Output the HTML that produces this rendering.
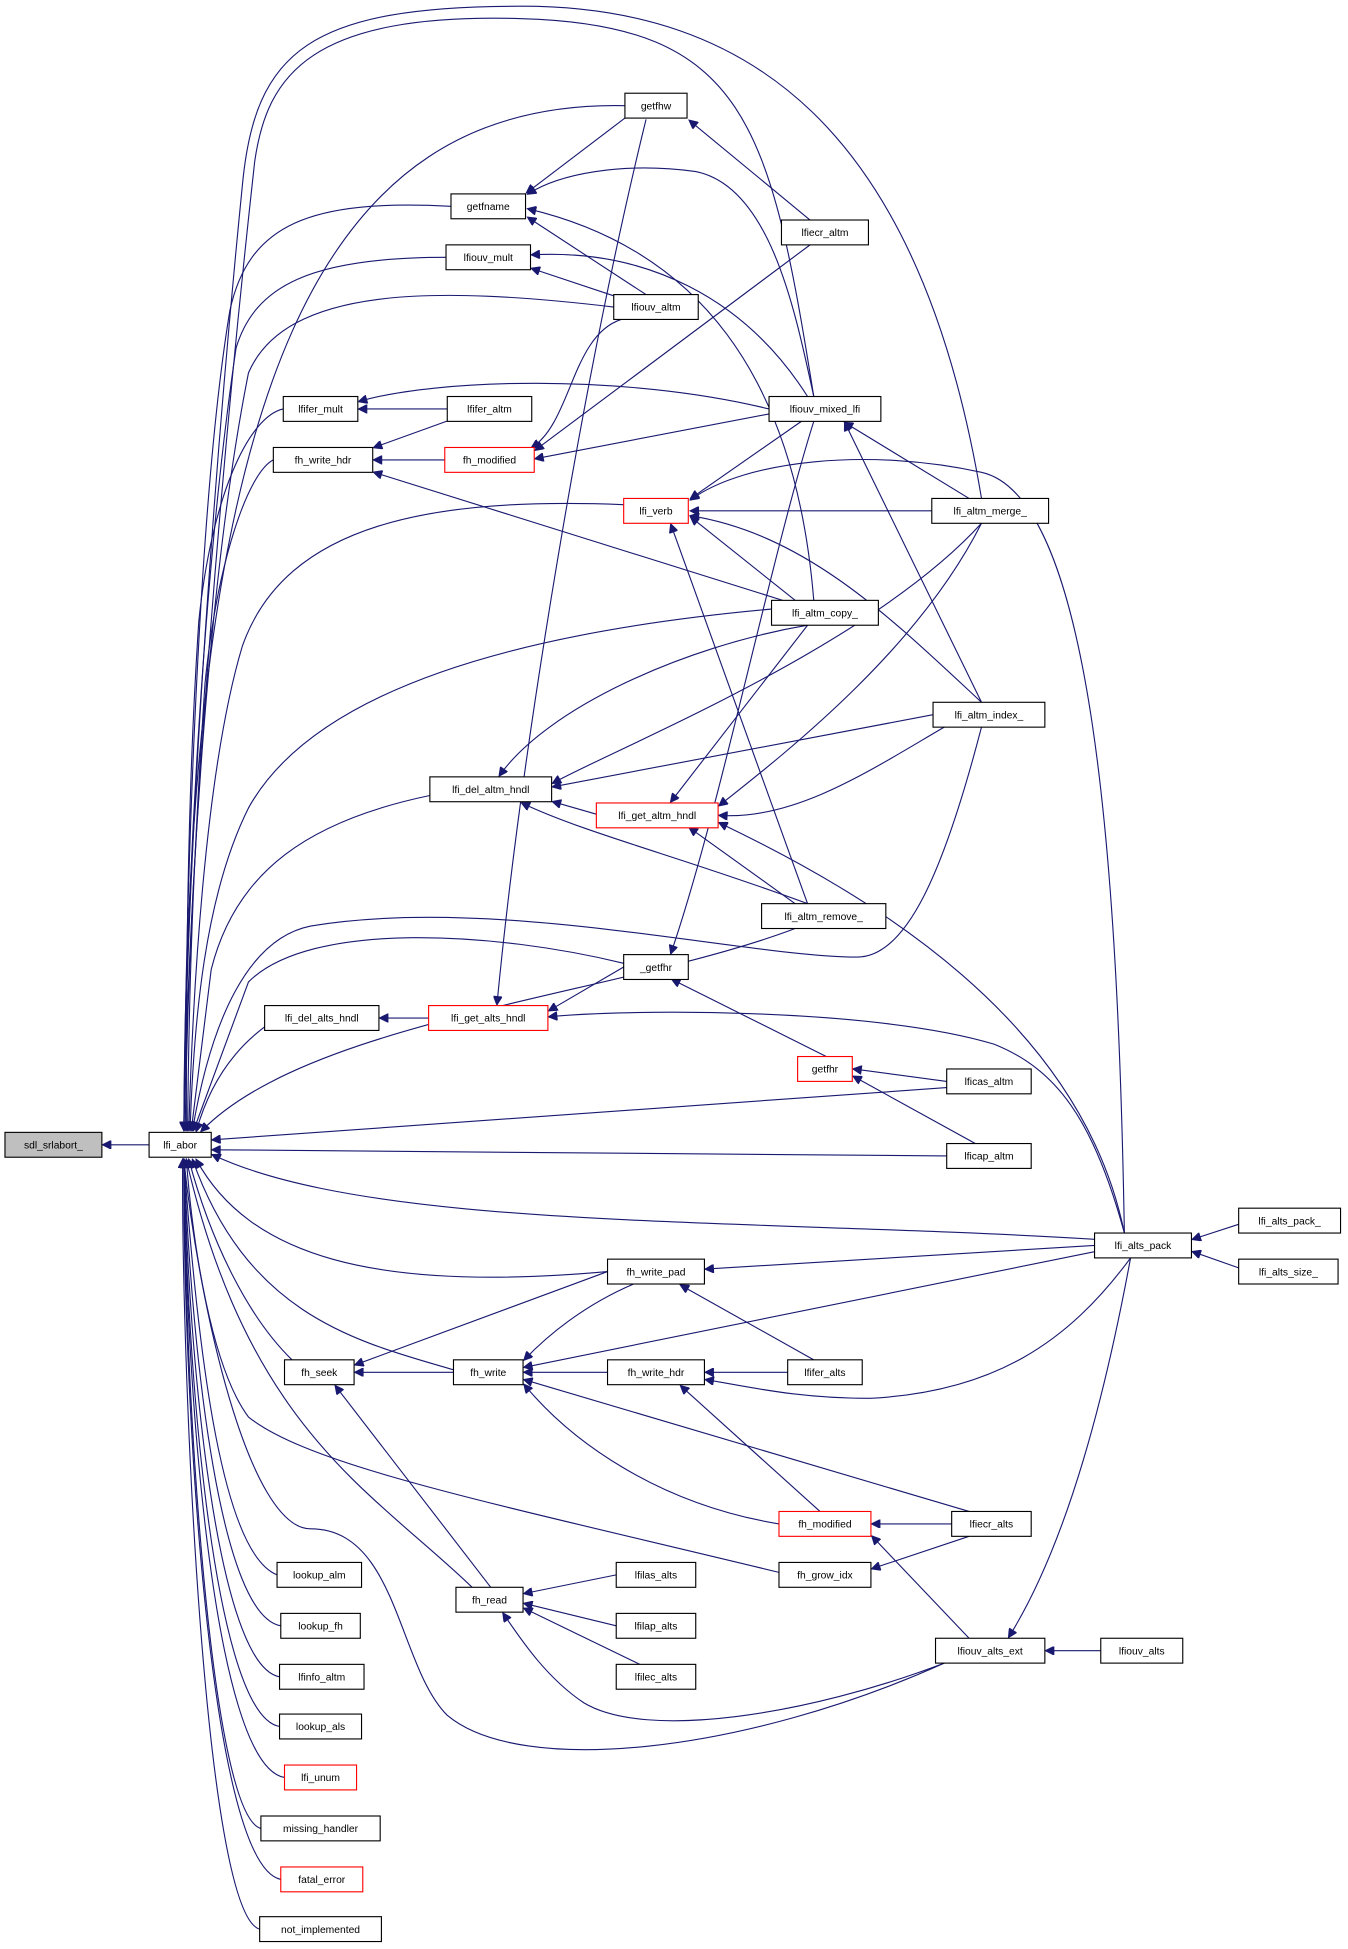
<!DOCTYPE html>
<html><head><meta charset="utf-8"><style>
html,body{margin:0;padding:0;background:#fff;}
svg{display:block;}
text{font-family:"Liberation Sans",Arial,sans-serif;font-size:8.3px;text-anchor:middle;fill:#000;}
.e{fill:none;stroke:#191970;stroke-width:0.9;}
.n{fill:#fff;stroke:#000;stroke-width:0.9;}
.r{fill:#fff;stroke:#ff0000;stroke-width:0.9;}
</style></head><body>
<svg width="1348" height="1949" viewBox="0 0 1085 1568" preserveAspectRatio="none" xmlns="http://www.w3.org/2000/svg">
<defs><marker id="a" viewBox="0 0 10 10" refX="9" refY="5" markerWidth="9" markerHeight="7" markerUnits="userSpaceOnUse" orient="auto"><path d="M0,0 L10,5 L0,10 z" fill="#191970" stroke="#191970"/></marker></defs>
<g class="e" marker-end="url(#a)">
<path d="M120,921 L83,921"/>
<path d="M503,85 C260,80 150,300 148,909"/>
<path d="M655,319 C620,100 600,20 420,15 C250,10 215,60 205,130 C175,400 152,700 148,909"/>
<path d="M790,401 C740,100 600,5 420,5 C250,5 205,40 195,150 C170,400 150,700 148,909"/>
<path d="M363,166 C250,160 200,180 185,250 C160,400 150,700 148,909"/>
<path d="M359,207 C250,207 205,230 190,280 C165,450 150,700 148,909"/>
<path d="M494,247 C350,230 230,230 200,300 C170,450 152,700 149,909"/>
<path d="M228,329 C200,335 170,400 160,500 C150,650 150,800 150,909"/>
<path d="M220,370 C200,380 175,450 165,550 C155,700 152,800 151,909"/>
<path d="M502,406 C350,400 230,420 195,520 C165,620 155,800 152,909"/>
<path d="M621,490 C400,510 250,560 200,650 C165,720 156,820 153,909"/>
<path d="M346,640 C250,660 190,700 170,780 L154,909"/>
<path d="M790,585 C760,700 730,770 690,770 C600,770 400,720 250,745 C200,755 170,820 155,909"/>
<path d="M502,775 C400,750 250,740 200,790 L156,909"/>
<path d="M240,809 C200,830 172,860 158,910"/>
<path d="M640,747 C500,800 250,820 162,910"/>
<path d="M762,875 L171,917"/>
<path d="M762,930 L171,925"/>
<path d="M881,997 C600,980 300,990 171,929"/>
<path d="M489,1023 C300,1040 200,1010 158,933"/>
<path d="M365,1102 C290,1080 200,1060 155,933"/>
<path d="M235,1094 C200,1060 170,1000 152,933"/>
<path d="M627,1265 C400,1210 250,1180 200,1140 C170,1100 155,1000 150,933"/>
<path d="M380,1277 C300,1200 200,1150 150,933"/>
<path d="M760,1338 C600,1410 420,1430 360,1380 C320,1340 320,1230 250,1230 C200,1230 160,1050 148,933"/>
<path d="M223,1267 C180,1250 160,1100 148,933"/>
<path d="M226,1308 C178,1300 155,1100 148,933"/>
<path d="M225,1349 C175,1340 152,1100 148,933"/>
<path d="M225,1389 C172,1380 150,1100 148,933"/>
<path d="M229,1430 C170,1420 149,1100 148,933"/>
<path d="M210,1471 C168,1460 148,1100 148,933"/>
<path d="M226,1512 C166,1500 147,1100 148,933"/>
<path d="M209,1552 C164,1540 146,1100 147,933"/>
<path d="M503,95 L424,155"/>
<path d="M655,319 C640,250 620,150 560,138 C500,130 450,140 425,156"/>
<path d="M655,483 C640,300 560,200 425,168"/>
<path d="M520,237 L425,175"/>
<path d="M500,240 L428,216"/>
<path d="M650,319 C600,240 520,200 428,205"/>
<path d="M652,177 L555,97"/>
<path d="M520,96 C470,300 420,600 400,808"/>
<path d="M652,197 L431,362"/>
<path d="M619,333 L431,369"/>
<path d="M500,257 C460,270 460,340 428,360"/>
<path d="M358,370 L301,370"/>
<path d="M360,329 L289,329"/>
<path d="M619,329 C500,300 350,305 289,323"/>
<path d="M362,338 L301,360"/>
<path d="M630,483 L301,380"/>
<path d="M780,401 L680,340"/>
<path d="M790,565 L680,340"/>
<path d="M645,339 L556,401"/>
<path d="M655,339 C620,450 580,650 540,767"/>
<path d="M750,411 L556,411"/>
<path d="M640,483 L556,416"/>
<path d="M790,565 C720,500 650,430 556,415"/>
<path d="M905,992 C900,700 880,400 790,380 C700,360 600,370 556,402"/>
<path d="M650,727 L540,422"/>
<path d="M650,503 C550,520 440,570 402,624"/>
<path d="M790,421 C700,520 500,600 445,630"/>
<path d="M751,575 L445,633"/>
<path d="M480,655 L445,645"/>
<path d="M650,727 C550,690 470,670 420,646"/>
<path d="M650,503 L540,645"/>
<path d="M790,421 C740,520 640,600 579,648"/>
<path d="M760,585 C700,620 640,660 579,656"/>
<path d="M905,992 C870,820 700,720 579,662"/>
<path d="M640,727 L555,666"/>
<path d="M502,778 L442,813"/>
<path d="M905,992 C880,900 850,860 800,840 C700,810 500,812 442,818"/>
<path d="M345,819 L306,819"/>
<path d="M665,850 L541,788"/>
<path d="M762,870 L687,860"/>
<path d="M785,920 L687,866"/>
<path d="M997,985 L960,997"/>
<path d="M997,1020 L960,1007"/>
<path d="M881,1002 L568,1021"/>
<path d="M655,1094 L548,1034"/>
<path d="M489,1023 L286,1098"/>
<path d="M510,1033 C470,1050 440,1075 422,1094"/>
<path d="M881,1007 L422,1100"/>
<path d="M489,1104 L422,1104"/>
<path d="M780,1216 L422,1110"/>
<path d="M627,1226 C530,1210 460,1160 422,1114"/>
<path d="M365,1104 L286,1104"/>
<path d="M634,1104 L568,1104"/>
<path d="M910,1012 C860,1080 800,1120 700,1125 C640,1125 600,1115 568,1110"/>
<path d="M660,1216 L548,1115"/>
<path d="M395,1277 L270,1115"/>
<path d="M496,1267 L422,1282"/>
<path d="M496,1308 L422,1290"/>
<path d="M515,1339 L422,1294"/>
<path d="M760,1338 C650,1380 520,1400 470,1370 C440,1350 420,1320 405,1298"/>
<path d="M766,1226 L702,1226"/>
<path d="M780,1318 L702,1236"/>
<path d="M780,1236 L702,1262"/>
<path d="M886,1328 L842,1328"/>
<path d="M910,1012 C890,1120 860,1240 812,1317"/>
</g>
<g>
<rect x="4" y="911" width="78" height="20" fill="#bfbfbf" stroke="#000" stroke-width="0.9"/><text x="43" y="924">sdl_srlabort_</text>
<rect class="n" x="120" y="911" width="50" height="20"/><text x="145" y="924">lfi_abor</text>
<rect class="n" x="503" y="75" width="50" height="20"/><text x="528" y="88">getfhw</text>
<rect class="n" x="363" y="156" width="60" height="20"/><text x="393" y="169">getfname</text>
<rect class="n" x="359" y="197" width="68" height="20"/><text x="393" y="210">lfiouv_mult</text>
<rect class="n" x="629" y="177" width="70" height="20"/><text x="664" y="190">lfiecr_altm</text>
<rect class="n" x="494" y="237" width="68" height="20"/><text x="528" y="250">lfiouv_altm</text>
<rect class="n" x="228" y="319" width="60" height="20"/><text x="258" y="332">lfifer_mult</text>
<rect class="n" x="360" y="319" width="68" height="20"/><text x="394" y="332">lfifer_altm</text>
<rect class="n" x="220" y="360" width="80" height="20"/><text x="260" y="373">fh_write_hdr</text>
<rect class="r" x="358" y="360" width="72" height="20"/><text x="394" y="373">fh_modified</text>
<rect class="n" x="619" y="319" width="90" height="20"/><text x="664" y="332">lfiouv_mixed_lfi</text>
<rect class="r" x="502" y="401" width="52" height="20"/><text x="528" y="414">lfi_verb</text>
<rect class="n" x="750" y="401" width="94" height="20"/><text x="797" y="414">lfi_altm_merge_</text>
<rect class="n" x="621" y="483" width="86" height="20"/><text x="664" y="496">lfi_altm_copy_</text>
<rect class="n" x="751" y="565" width="90" height="20"/><text x="796" y="578">lfi_altm_index_</text>
<rect class="n" x="346" y="625" width="98" height="20"/><text x="395" y="638">lfi_del_altm_hndl</text>
<rect class="r" x="480" y="646" width="98" height="20"/><text x="529" y="659">lfi_get_altm_hndl</text>
<rect class="n" x="613" y="727" width="100" height="20"/><text x="663" y="740">lfi_altm_remove_</text>
<rect class="n" x="502" y="768" width="52" height="20"/><text x="528" y="781">_getfhr</text>
<rect class="n" x="213" y="809" width="92" height="20"/><text x="259" y="822">lfi_del_alts_hndl</text>
<rect class="r" x="345" y="809" width="96" height="20"/><text x="393" y="822">lfi_get_alts_hndl</text>
<rect class="r" x="642" y="850" width="44" height="20"/><text x="664" y="863">getfhr</text>
<rect class="n" x="762" y="860" width="68" height="20"/><text x="796" y="873">lficas_altm</text>
<rect class="n" x="762" y="920" width="68" height="20"/><text x="796" y="933">lficap_altm</text>
<rect class="n" x="881" y="992" width="78" height="20"/><text x="920" y="1005">lfi_alts_pack</text>
<rect class="n" x="997" y="972" width="82" height="20"/><text x="1038" y="985">lfi_alts_pack_</text>
<rect class="n" x="997" y="1013" width="80" height="20"/><text x="1037" y="1026">lfi_alts_size_</text>
<rect class="n" x="489" y="1013" width="78" height="20"/><text x="528" y="1026">fh_write_pad</text>
<rect class="n" x="229" y="1094" width="56" height="20"/><text x="257" y="1107">fh_seek</text>
<rect class="n" x="365" y="1094" width="56" height="20"/><text x="393" y="1107">fh_write</text>
<rect class="n" x="489" y="1094" width="78" height="20"/><text x="528" y="1107">fh_write_hdr</text>
<rect class="n" x="634" y="1094" width="60" height="20"/><text x="664" y="1107">lfifer_alts</text>
<rect class="r" x="627" y="1216" width="74" height="20"/><text x="664" y="1229">fh_modified</text>
<rect class="n" x="766" y="1216" width="64" height="20"/><text x="798" y="1229">lfiecr_alts</text>
<rect class="n" x="627" y="1257" width="74" height="20"/><text x="664" y="1270">fh_grow_idx</text>
<rect class="n" x="367" y="1277" width="54" height="20"/><text x="394" y="1290">fh_read</text>
<rect class="n" x="496" y="1257" width="64" height="20"/><text x="528" y="1270">lfilas_alts</text>
<rect class="n" x="496" y="1298" width="64" height="20"/><text x="528" y="1311">lfilap_alts</text>
<rect class="n" x="496" y="1339" width="64" height="20"/><text x="528" y="1352">lfilec_alts</text>
<rect class="n" x="753" y="1318" width="88" height="20"/><text x="797" y="1331">lfiouv_alts_ext</text>
<rect class="n" x="886" y="1318" width="66" height="20"/><text x="919" y="1331">lfiouv_alts</text>
<rect class="n" x="223" y="1257" width="68" height="20"/><text x="257" y="1270">lookup_alm</text>
<rect class="n" x="226" y="1298" width="64" height="20"/><text x="258" y="1311">lookup_fh</text>
<rect class="n" x="225" y="1339" width="68" height="20"/><text x="259" y="1352">lfinfo_altm</text>
<rect class="n" x="225" y="1379" width="66" height="20"/><text x="258" y="1392">lookup_als</text>
<rect class="r" x="229" y="1420" width="58" height="20"/><text x="258" y="1433">lfi_unum</text>
<rect class="n" x="210" y="1461" width="96" height="20"/><text x="258" y="1474">missing_handler</text>
<rect class="r" x="226" y="1502" width="66" height="20"/><text x="259" y="1515">fatal_error</text>
<rect class="n" x="209" y="1542" width="98" height="20"/><text x="258" y="1555">not_implemented</text>
</g>
</svg>
</body></html>
